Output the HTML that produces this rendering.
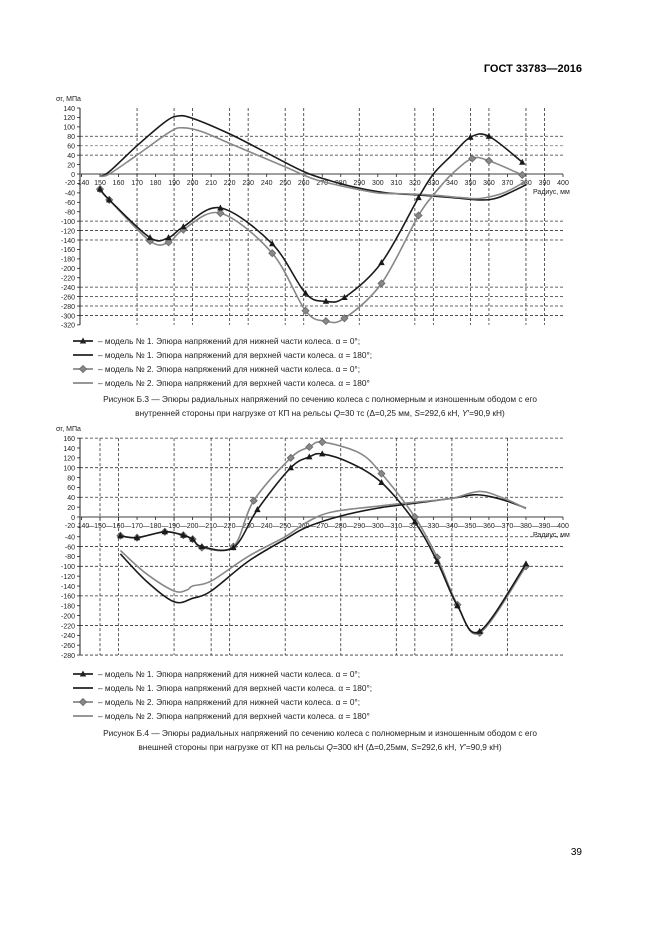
<!DOCTYPE html>
<html><head><meta charset="utf-8">
<style>
body{margin:0;background:#fff;}
svg{display:block;font-family:"Liberation Sans",sans-serif;}
</style></head><body>
<svg id="s" width="661" height="935" xmlns="http://www.w3.org/2000/svg">
<text x="582" y="72" font-size="11" font-weight="bold" text-anchor="end">ГОСТ 33783—2016</text>
<text x="582" y="855" font-size="10" text-anchor="end">39</text>
<g font-size="8.3" fill="#222">
<text x="320" y="402" text-anchor="middle">Рисунок Б.3 — Эпюры радиальных напряжений по сечению колеса с полномерным и изношенным ободом с его</text>
<text x="320" y="416" text-anchor="middle">внутренней стороны при нагрузке от КП на рельсы <tspan font-style="italic">Q</tspan>=30 тс (Δ=0,25 мм, <tspan font-style="italic">S</tspan>=292,6 кН, <tspan font-style="italic">Y</tspan>′=90,9 кН)</text>
<text x="320" y="736" text-anchor="middle">Рисунок Б.4 — Эпюры радиальных напряжений по сечению колеса с полномерным и  изношенным ободом с его</text>
<text x="320" y="750" text-anchor="middle">внешней стороны при нагрузке от КП на рельсы <tspan font-style="italic">Q</tspan>=300 кН (Δ=0,25мм, <tspan font-style="italic">S</tspan>=292,6 кН, <tspan font-style="italic">Y</tspan>′=90,9 кН)</text>
</g>
<g id="g"></g>
</svg>
<script>
var NS="http://www.w3.org/2000/svg",G=document.getElementById("g");
function el(t,a,txt){var e=document.createElementNS(NS,t);for(var k in a)e.setAttribute(k,a[k]);if(txt!=null)e.textContent=txt;G.appendChild(e);return e;}
function X(r){return 100+(r-150)*1.852;}
function path(pts){var d="M"+pts[0][0]+","+pts[0][1];for(var i=0;i<pts.length-1;i++){var p0=pts[i-1]||pts[i],p1=pts[i],p2=pts[i+1],p3=pts[i+2]||p2;
var c1=[p1[0]+(p2[0]-p0[0])/6,p1[1]+(p2[1]-p0[1])/6],c2=[p2[0]-(p3[0]-p1[0])/6,p2[1]-(p3[1]-p1[1])/6];
d+=" C"+c1[0].toFixed(1)+","+c1[1].toFixed(1)+" "+c2[0].toFixed(1)+","+c2[1].toFixed(1)+" "+p2[0].toFixed(1)+","+p2[1].toFixed(1);}return d;}
function tri(x,y,c){el("polygon",{points:(x)+","+(y-3.5)+" "+(x-3.2)+","+(y+2.5)+" "+(x+3.2)+","+(y+2.5),fill:c});}
function dia(x,y,c){el("polygon",{points:x+","+(y-3.5)+" "+(x+3.5)+","+y+" "+x+","+(y+3.5)+" "+(x-3.5)+","+y,fill:"#888",stroke:"#666","stroke-width":0.8});}
function chart(o){
 var Y=function(v){return o.z-v/20*o.s;};
 o.vl.forEach(function(r){el("line",{x1:X(r),x2:X(r),y1:Y(o.top),y2:Y(o.bot),stroke:"#333","stroke-width":0.8,"stroke-dasharray":"3,2"});});
 o.hl.forEach(function(h){el("line",{x1:h[1]||80,x2:563,y1:Y(h[0]),y2:Y(h[0]),stroke:h[2]||"#333","stroke-width":0.8,"stroke-dasharray":"3,2"});});
 el("line",{x1:80,x2:80,y1:Y(o.top),y2:Y(o.bot),stroke:"#222","stroke-width":1});
 el("line",{x1:80,x2:563,y1:o.z,y2:o.z,stroke:"#666","stroke-width":1.2});
 for(var v=o.top;v>=o.bot;v-=20){el("line",{x1:77,x2:80,y1:Y(v),y2:Y(v),stroke:"#222","stroke-width":0.8});
  if(!(v==-20))el("text",{x:75,y:Y(v)+2.8,"font-size":7,"text-anchor":"end",fill:"#222"},String(v));}
 el("text",{x:75,y:o.z+11,"font-size":7,"text-anchor":"end",fill:"#222"},"-20");
 for(var r=140;r<=400;r+=10){el("line",{x1:X(r),x2:X(r),y1:o.z,y2:o.z+3,stroke:"#222","stroke-width":0.8});
  el("text",{x:X(r)+(r==140?2:0),y:o.z+11,"font-size":7,"text-anchor":"middle",fill:"#222"},String(r));
  if(o.dash&&r<400)el("text",{x:X(r+5),y:o.z+11,"font-size":7,"text-anchor":"middle",fill:"#222"},"—");}
 el("text",{x:533,y:o.z+20,"font-size":7,fill:"#222"},"Радиус, мм");
 el("text",{x:56,y:Y(o.top)-7,"font-size":7,fill:"#222"},"σr, МПа");
 o.series.forEach(function(s){var pts=s.d.map(function(p){return [X(p[0]),Y(p[1])];});
  el("path",{d:path(pts),fill:"none",stroke:s.c,"stroke-width":1.6});
  if(s.m)s.m.forEach(function(i){var p=pts[i];(s.t=="t"?tri:dia)(p[0],p[1],s.c);});});
 var L=["– модель № 1. Эпюра напряжений для нижней части колеса. α = 0°;","– модель № 1. Эпюра напряжений для верхней части колеса. α = 180°;","– модель № 2. Эпюра напряжений для нижней части колеса. α = 0°;","– модель № 2. Эпюра напряжений для верхней части колеса. α = 180°"];
 var cs=["#222","#222","#888","#888"];
 L.forEach(function(t,i){var y=o.ly+i*14;el("line",{x1:73,x2:93,y1:y,y2:y,stroke:cs[i],"stroke-width":1.8});
  if(i==0)tri(83,y,"#222");if(i==2)dia(83,y);
  el("text",{x:98,y:y+3,"font-size":8.3,fill:"#222"},t);});
}
chart({z:174,s:9.43,top:140,bot:-320,ly:341,dash:false,
 vl:[170,190,200,220,230,250,260,290,320,330,350,360,380,390],
 hl:[[80],[60,80,"#888"],[40],[-100],[-120],[-140],[-240],[-260],[-280],[-300]],
 series:[
 {c:"#1a1a1a",d:[[150,-5],[155,5],[170,60],[185,110],[192,123],[200,118],[220,85],[240,45],[260,5],[275,-15],[290,-30],[305,-40],[320,-44],[340,-50],[355,-55],[365,-50],[380,-23]]},
 {c:"#888",d:[[150,-5],[155,0],[170,40],[188,90],[195,98],[205,90],[220,65],[250,15],[265,-10],[280,-25],[300,-40],[315,-42],[330,-45],[345,-50],[355,-52],[368,-40],[380,-15]]},
 {c:"#888",t:"d",m:[0,1,2,3,4,5,6,7,8,9,10,11,14,15,16],d:[[150,-32],[155,-55],[177,-142],[187,-145],[195,-118],[215,-83],[243,-168],[261,-290],[272,-312],[282,-306],[302,-232],[322,-88],[331,-40],[340,0],[351,33],[360,28],[378,-2]]},
 {c:"#1a1a1a",t:"t",m:[0,1,2,3,4,5,6,7,8,9,10,11,14,15,16],d:[[150,-32],[155,-55],[177,-135],[187,-135],[195,-112],[215,-72],[243,-148],[261,-253],[272,-270],[282,-262],[302,-188],[322,-50],[330,0],[340,40],[350,78],[360,80],[378,25]]}
 ]});
chart({z:517,s:9.86,top:160,bot:-280,ly:674,dash:true,
 vl:[150,160,190,210,220,250,280,310,320,340,370],
 hl:[[160],[100],[40],[-40,300],[-60],[-100],[-160],[-220],[-280]],
 series:[
 {c:"#1a1a1a",d:[[161,-75],[175,-130],[190,-172],[200,-165],[210,-150],[230,-90],[250,-45],[262,-20],[280,2],[300,18],[320,28],[340,38],[352,45],[360,42],[370,32],[380,18]]},
 {c:"#888",d:[[161,-68],[175,-115],[190,-150],[197,-148],[200,-140],[210,-130],[230,-80],[250,-40],[262,-10],[275,10],[300,22],[320,30],[340,38],[355,52],[368,38],[380,17]]},
 {c:"#888",t:"d",m:[0,1,2,3,4,5,6,7,8,9,10,12,13,14,15,16,17],d:[[161,-38],[170,-42],[185,-30],[195,-37],[200,-45],[205,-62],[222,-60],[233,33],[253,120],[263,142],[270,152],[290,130],[302,88],[320,0],[332,-82],[343,-178],[355,-235],[380,-100]]},
 {c:"#1a1a1a",t:"t",m:[0,1,2,3,4,5,6,7,8,9,10,12,13,14,15,16,17],d:[[161,-38],[170,-42],[185,-30],[195,-37],[200,-45],[205,-60],[222,-62],[235,15],[253,100],[263,122],[270,128],[285,110],[302,70],[320,-10],[332,-90],[343,-180],[355,-232],[380,-95]]}
 ]});
</script>
</body></html>
